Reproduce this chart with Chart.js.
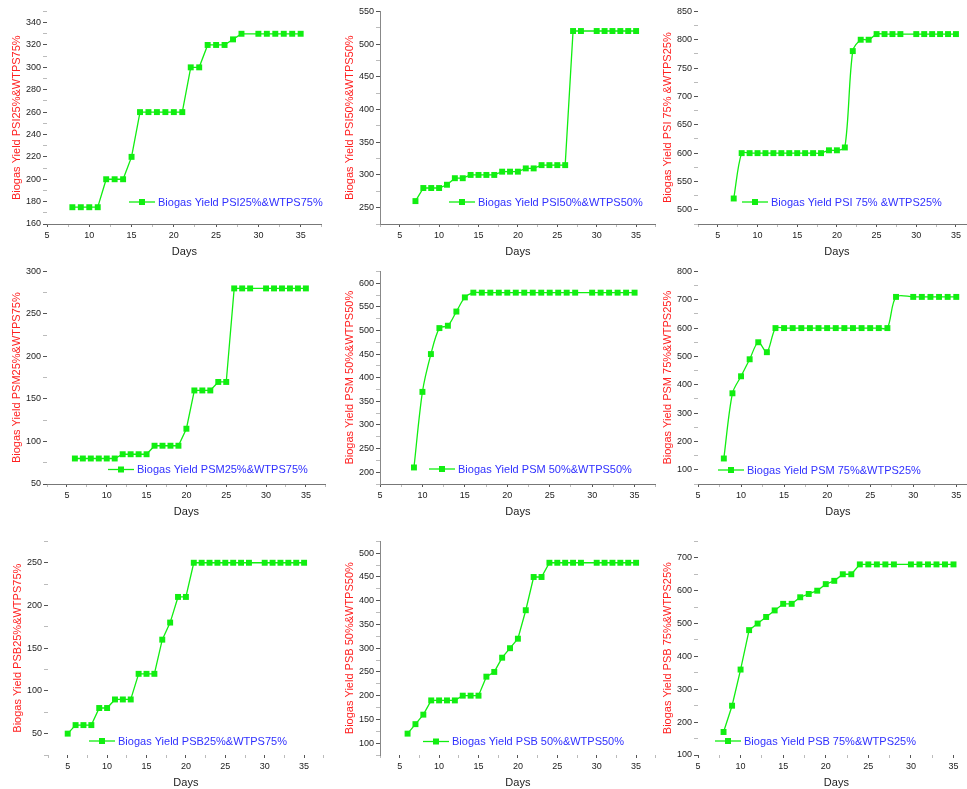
<!DOCTYPE html>
<html>
<head>
<meta charset="utf-8">
<script src="https://cdn.jsdelivr.net/npm/chart.js@4.4.1/dist/chart.umd.min.js"></script>
<style>
  html, body { margin: 0; padding: 0; background: #fff; overflow: hidden; }
  body { position: relative; width: 967px; height: 789px; }
  canvas { position: absolute; }
</style>
</head>
<body>
<script>
const days_PSI25 = [8,9,10,11,12,13,14,15,16,17,18,19,20,21,22,23,24,25,26,27,28,30,31,32,33,34,35];
const yield_PSI25 = [175,175,175,175,200,200,200,220,260,260,260,260,260,260,300,300,320,320,320,325,330,330,330,330,330,330,330];

const days_PSI50 = [7,8,9,10,11,12,13,14,15,16,17,18,19,20,21,22,23,24,25,26,27,28,30,31,32,33,34,35];
const yield_PSI50 = [260,280,280,280,285,295,295,300,300,300,300,305,305,305,310,310,315,315,315,315,520,520,520,520,520,520,520,520];

const days_PSI75 = [7,8,9,10,11,12,13,14,15,16,17,18,19,20,21,22,23,24,25,26,27,28,30,31,32,33,34,35];
const yield_PSI75 = [520,600,600,600,600,600,600,600,600,600,600,600,605,605,610,780,800,800,810,810,810,810,810,810,810,810,810,810];

const days_PSM25 = [6,7,8,9,10,11,12,13,14,15,16,17,18,19,20,21,22,23,24,25,26,27,28,30,31,32,33,34,35];
const yield_PSM25 = [80,80,80,80,80,80,85,85,85,85,95,95,95,95,115,160,160,160,170,170,280,280,280,280,280,280,280,280,280];

const days_PSM50 = [9,10,11,12,13,14,15,16,17,18,19,20,21,22,23,24,25,26,27,28,30,31,32,33,34,35];
const yield_PSM50 = [210,370,450,505,510,540,570,580,580,580,580,580,580,580,580,580,580,580,580,580,580,580,580,580,580,580];

const days_PSM75 = [8,9,10,11,12,13,14,15,16,17,18,19,20,21,22,23,24,25,26,27,28,30,31,32,33,34,35];
const yield_PSM75 = [140,370,430,490,550,515,600,600,600,600,600,600,600,600,600,600,600,600,600,600,710,710,710,710,710,710,710];

const days_PSB25 = [5,6,7,8,9,10,11,12,13,14,15,16,17,18,19,20,21,22,23,24,25,26,27,28,30,31,32,33,34,35];
const yield_PSB25 = [50,60,60,60,80,80,90,90,90,120,120,120,160,180,210,210,250,250,250,250,250,250,250,250,250,250,250,250,250,250];

const days_PSB50 = [6,7,8,9,10,11,12,13,14,15,16,17,18,19,20,21,22,23,24,25,26,27,28,30,31,32,33,34,35];
const yield_PSB50 = [120,140,160,190,190,190,190,200,200,200,240,250,280,300,320,380,450,450,480,480,480,480,480,480,480,480,480,480,480];

const days_PSB75 = [8,9,10,11,12,13,14,15,16,17,18,19,20,21,22,23,24,25,26,27,28,30,31,32,33,34,35];
const yield_PSB75 = [170,250,360,480,500,520,540,560,560,580,590,600,620,630,650,650,680,680,680,680,680,680,680,680,680,680,680];

const seriesNames = [
  'Biogas Yield PSI25%&WTPS75%', 'Biogas Yield PSI50%&WTPS50%', 'Biogas Yield PSI 75% &WTPS25%',
  'Biogas Yield PSM25%&WTPS75%', 'Biogas Yield PSM 50%&WTPS50%', 'Biogas Yield PSM 75%&WTPS25%',
  'Biogas Yield PSB25%&WTPS75%', 'Biogas Yield PSB 50%&WTPS50%', 'Biogas Yield PSB 75%&WTPS25%'
];

// axis ranges: [min, max, minor step, labelled step]
const yAxes = [
  [160, 350, 10, 20], [225, 550, 25, 50], [475, 850, 25, 50],
  [50, 300, 25, 50], [175, 625, 25, 50], [50, 800, 50, 100],
  [25, 275, 25, 50], [75, 525, 25, 50], [100, 750, 50, 100]
];
const xMins = [5, 2.5, 2.5, 2.5, 5, 5, 2.5, 2.5, 5];
const X_MAX = 37.5;

// page layout of each plot area and its legend
const panels = [
  { left: 47,  top: 10,  right: 326, bottom: 224, legX: 82, legDy: 22,   tension: 0,   yLine: false, xLine: true },
  { left: 380, top: 10,  right: 660, bottom: 224, legX: 69, legDy: 22,   tension: 0,   yLine: true,  xLine: true },
  { left: 698, top: 10,  right: 980, bottom: 224, legX: 44, legDy: 22,   tension: 0.3, yLine: false, xLine: true },
  { left: 47,  top: 270, right: 330, bottom: 484, legX: 61, legDy: 14.5, tension: 0,   yLine: false, xLine: true },
  { left: 380, top: 270, right: 660, bottom: 484, legX: 49, legDy: 15,   tension: 0.3, yLine: true,  xLine: true },
  { left: 698, top: 270, right: 982, bottom: 484, legX: 20, legDy: 14,   tension: 0.3, yLine: false, xLine: true },
  { left: 48,  top: 540, right: 328, bottom: 755, legX: 41, legDy: 14,   tension: 0,   yLine: false, xLine: false },
  { left: 380, top: 540, right: 660, bottom: 755, legX: 43, legDy: 13.5, tension: 0,   yLine: true,  xLine: false },
  { left: 698, top: 540, right: 979, bottom: 755, legX: 17, legDy: 14,   tension: 0,   yLine: false, xLine: false }
];

const allDays = [days_PSI25, days_PSI50, days_PSI75, days_PSM25, days_PSM50, days_PSM75, days_PSB25, days_PSB50, days_PSB75];
const allYields = [yield_PSI25, yield_PSI50, yield_PSI75, yield_PSM25, yield_PSM50, yield_PSM75, yield_PSB25, yield_PSB50, yield_PSB75];

const Y_W = 47;     // width of the y axis block (title + labels + ticks)
const X_H = 42;     // height of the x axis block
const PAD_TOP = 6;
const GREEN = '#11ee11';
const FONT = 'Arial, "Liberation Sans", sans-serif';

Chart.defaults.font.family = FONT;
Chart.defaults.color = '#333';

// legend drawn inside the plot, near the bottom, like the original
const insideLegend = {
  id: 'insideLegend',
  afterDatasetsDraw(chart, args, opts) {
    const { ctx, chartArea } = chart;
    const x0 = chartArea.left + opts.x;
    const y = chartArea.bottom - opts.dy;
    ctx.save();
    ctx.strokeStyle = GREEN;
    ctx.lineWidth = 1.3;
    ctx.beginPath();
    ctx.moveTo(x0, y);
    ctx.lineTo(x0 + 26, y);
    ctx.stroke();
    ctx.fillStyle = GREEN;
    ctx.fillRect(x0 + 10, y - 3, 6, 6);
    ctx.fillStyle = '#3030ff';
    ctx.font = '11px ' + FONT;
    ctx.textBaseline = 'middle';
    ctx.fillText(opts.text, x0 + 29, y + 0.5);
    ctx.restore();
  }
};

panels.forEach((p, i) => {
  const canvas = document.createElement('canvas');
  const w = Y_W + (p.right - p.left);
  const h = PAD_TOP + (p.bottom - p.top) + X_H;
  canvas.width = w;
  canvas.height = h;
  canvas.style.left = (p.left - Y_W) + 'px';
  canvas.style.top = (p.top - PAD_TOP) + 'px';
  canvas.style.width = w + 'px';
  canvas.style.height = h + 'px';
  document.body.appendChild(canvas);

  const [yMin, yMax, yStep, yLab] = yAxes[i];
  const points = allDays[i].map((d, k) => ({ x: d, y: allYields[i][k] }));

  new Chart(canvas, {
    type: 'line',
    data: {
      datasets: [{
        label: seriesNames[i],
        data: points,
        borderColor: GREEN,
        backgroundColor: GREEN,
        borderWidth: 1.3,
        pointStyle: 'rect',
        pointRadius: 4.2,
        pointBorderWidth: 0,
        tension: p.tension,
        clip: false
      }]
    },
    options: {
      responsive: false,
      animation: false,
      devicePixelRatio: 1,
      layout: { padding: { top: PAD_TOP, left: 0, right: 0, bottom: 0 } },
      plugins: {
        legend: { display: false },
        tooltip: { enabled: false },
        insideLegend: { x: p.legX, dy: p.legDy, text: seriesNames[i] }
      },
      scales: {
        x: {
          type: 'linear',
          min: xMins[i],
          max: X_MAX,
          afterFit: (scale) => { scale.height = X_H; },
          border: { display: p.xLine, color: '#777', width: 1 },
          grid: {
            drawOnChartArea: false,
            drawTicks: true,
            tickLength: 3,
            tickColor: (c) => (c.tick && c.tick.value % 5 === 0) ? '#555' : '#bbb'
          },
          ticks: {
            stepSize: 2.5,
            autoSkip: false,
            maxRotation: 0,
            padding: 3,
            color: '#222',
            font: { size: 9 },
            callback: (v) => (v % 5 === 0 ? String(v) : '')
          },
          title: {
            display: true,
            text: 'Days',
            color: '#222',
            font: { size: 11 },
            padding: { top: 0, bottom: 7.5 }
          }
        },
        y: {
          type: 'linear',
          min: yMin,
          max: yMax,
          afterFit: (scale) => { scale.width = Y_W; },
          border: { display: p.yLine, color: '#888', width: 1 },
          grid: {
            drawOnChartArea: false,
            drawTicks: true,
            tickLength: 4,
            tickColor: (c) => (c.tick && c.tick.value % yLab === 0) ? '#555' : '#bbb'
          },
          ticks: {
            stepSize: yStep,
            autoSkip: false,
            padding: 2,
            color: '#222',
            font: { size: 9 },
            callback: (v) => (v % yLab === 0 ? String(v) : '')
          },
          title: {
            display: true,
            text: seriesNames[i],
            color: '#ff2020',
            font: { size: 11 },
            padding: { top: 10, bottom: 0 }
          }
        }
      }
    },
    plugins: [insideLegend]
  });
});
</script>
</body>
</html>
